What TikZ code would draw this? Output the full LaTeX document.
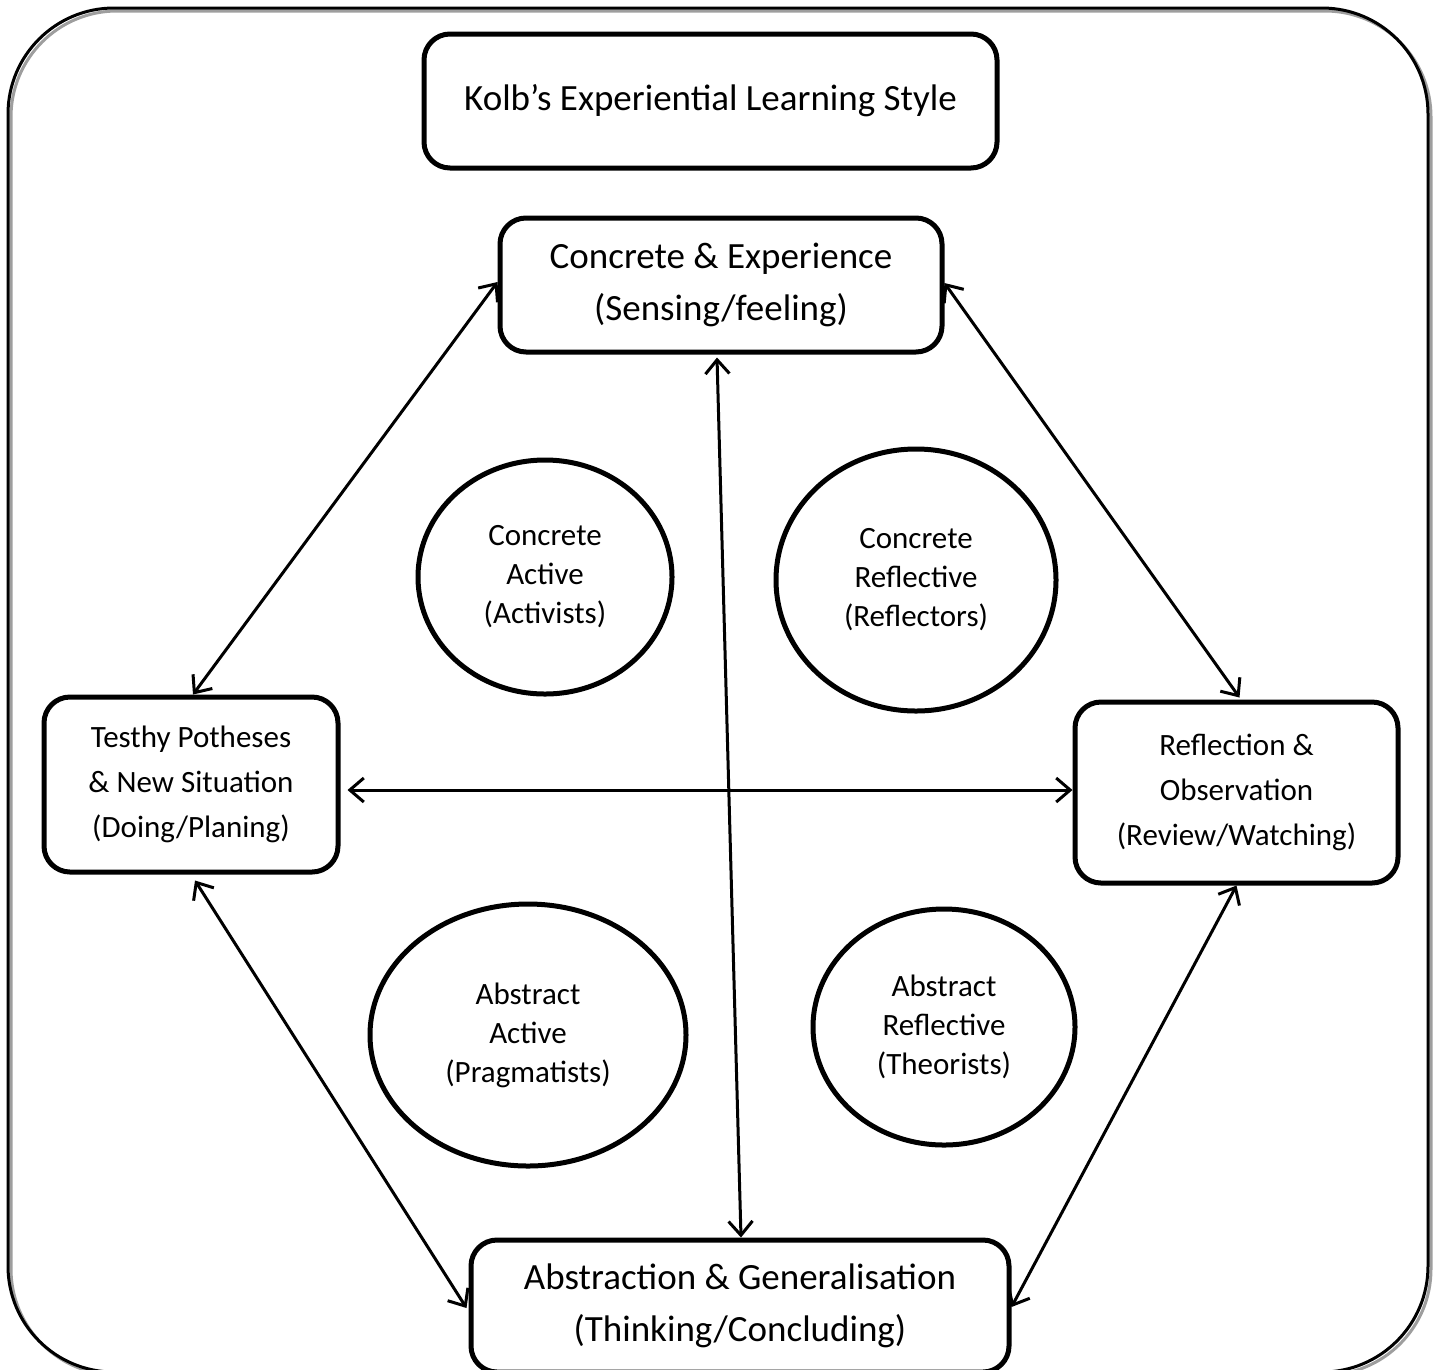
\documentclass[tikz,border=0pt]{standalone}
\usepackage{fontspec}
\setmainfont{Carlito}
\usetikzlibrary{arrows.meta,calc,shapes.geometric}
\begin{document}
\begin{tikzpicture}[x=1pt,y=-1pt,
  box/.style={draw, line width=5pt, rounded corners=26pt, align=center, inner sep=0pt},
  big/.style={font=\fontsize{37}{52}\selectfont},
  small/.style={font=\fontsize{31}{45}\selectfont},
  oval/.style={draw, ellipse, line width=5pt, inner sep=0pt, align=center, font=\fontsize{31}{39}\selectfont},
  barb/.tip={Straight Barb[length=14pt,width=24pt,line width=3pt]},
  link/.style={line width=3pt, barb-barb}]
\useasboundingbox (0,0) rectangle (1439,1369);
\clip (0,0) rectangle (1439,1369);
% outer frame with shadow
\draw[black!38, line width=3pt, rounded corners=106pt] (11,11) rectangle (1431,1375);
\draw[line width=3pt, rounded corners=106pt] (8,8) rectangle (1428,1372);
% boxes
\node[box, big, minimum width=573pt, minimum height=134pt] (title) at (710.5,101) {Kolb’s Experiential Learning Style};
\node[box, big, minimum width=442pt, minimum height=134pt] (ce) at (721,285) {Concrete \& Experience\\(Sensing/feeling)};
\node[box, small, minimum width=294pt, minimum height=175pt] (tp) at (191,784.5) {Testhy Potheses\\\& New Situation\\(Doing/Planing)};
\node[box, small, minimum width=323pt, minimum height=181pt] (ro) at (1236.5,792.5) {Reflection \&\\Observation\\(Review/Watching)};
\node[box, big, minimum width=538pt, minimum height=132pt] (ag) at (740,1306) {Abstraction \& Generalisation\\(Thinking/Concluding)};
% ellipses
\node[oval, minimum width=254pt, minimum height=234pt] (ca) at (545,577) {Concrete\\Active\\(Activists)};
\node[oval, minimum width=280pt, minimum height=262pt] (cr) at (916,580) {Concrete\\Reflective\\(Reflectors)};
\node[oval, minimum width=316pt, minimum height=262pt] (aa) at (528,1035) {Abstract\\Active\\(Pragmatists)};
\node[oval, minimum width=262pt, minimum height=236pt] (ar) at (944,1027) {Abstract\\Reflective\\(Theorists)};
% connectors
\draw[link] ($(ce.west)+(0,-3)$) -- ($(tp.north)+(2,0)$);
\draw[link] ($(ce.east)+(0,-2)$) -- ($(ro.north)+(3,-2)$);
\draw[link] ($(ce.south)+(-4,3)$) -- ($(ag.north)+(1,0)$);
\draw[link] ($(tp.east)+(7,5.5)$) -- ($(ro.west)+(0,-2.5)$);
\draw[link] ($(tp.south)+(4,6)$) -- ($(ag.west)+(-2,2)$);
\draw[link] (ro.south) -- ($(ag.east)+(0,1)$);
\end{tikzpicture}
\end{document}
